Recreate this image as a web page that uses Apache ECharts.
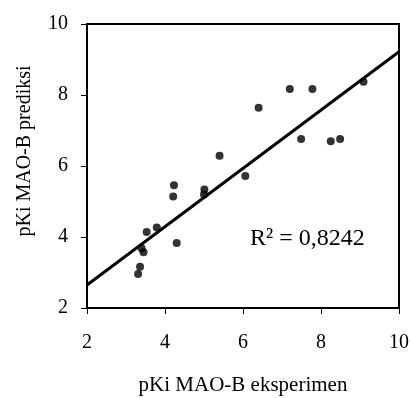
<!DOCTYPE html>
<html>
<head>
<meta charset="utf-8">
<script src="https://cdn.jsdelivr.net/npm/echarts@6/dist/echarts.min.js"></script>
<style>
  html, body { margin: 0; padding: 0; background: #fff; }
  #chart { width: 411px; height: 398px; }
</style>
</head>
<body>
<div id="chart"></div>
<script>
// experimental vs predicted pKi values
const eksperimen = [3.31, 3.36, 3.40, 3.45, 3.53, 3.79, 4.21, 4.23, 4.30, 5.01, 5.00, 5.40, 6.06, 6.40, 7.20, 7.49, 7.78, 8.25, 8.49, 9.09];
const prediksi   = [2.96, 3.16, 3.68, 3.57, 4.14, 4.27, 5.14, 5.46, 3.83, 5.34, 5.20, 6.29, 5.72, 7.64, 8.17, 6.76, 8.17, 6.70, 6.76, 8.37];

// linear trend line end points
const trendX = [2, 10];
const trendY = [2.65, 9.22];

const axisTicks = [2, 4, 6, 8, 10];
const r2Label = "R² = 0,8242";

const FONT = "'Liberation Serif', 'DejaVu Serif', serif";

const chart = echarts.init(document.getElementById("chart"));

const axisCommon = {
  type: "value",
  min: axisTicks[0],
  max: axisTicks[axisTicks.length - 1],
  interval: 2,
  splitLine: { show: false },
  axisLine: { show: true, onZero: false, lineStyle: { color: "#000", width: 2 } },
  axisTick: { show: true, inside: false, length: 6, lineStyle: { color: "#000", width: 1 } },
  nameLocation: "middle",
};

chart.setOption({
  animation: false,
  backgroundColor: "#fff",
  grid: {
    left: 87,
    right: 12,
    top: 24,
    bottom: 90,
    containLabel: false,
    outerBoundsMode: "none",
    show: true,
    borderColor: "#000",
    borderWidth: 2,
  },
  xAxis: {
    ...axisCommon,
    name: "pKi MAO-B eksperimen",
    nameGap: 67,
    nameTextStyle: { fontFamily: FONT, fontSize: 21, color: "#000" },
    axisLabel: { margin: 25, fontFamily: FONT, fontSize: 20, color: "#000" },
  },
  yAxis: {
    ...axisCommon,
    name: "pKi MAO-B prediksi",
    nameGap: 52,
    nameTextStyle: { fontFamily: FONT, fontSize: 20, color: "#000", padding: [0, 0, 0, 30] },
    axisLabel: { margin: 19, fontFamily: FONT, fontSize: 20, color: "#000" },
  },
  graphic: [
    {
      type: "text",
      left: 250,
      top: 227,
      style: { text: r2Label, fontFamily: FONT, fontSize: 24, fill: "#000" },
    },
  ],
  series: [
    {
      type: "line",
      data: trendX.map((x, i) => [x, trendY[i]]),
      symbol: "none",
      lineStyle: { color: "#000", width: 3 },
      z: 2,
    },
    {
      type: "scatter",
      data: eksperimen.map((x, i) => [x, prediksi[i]]),
      symbol: "circle",
      symbolSize: 8,
      itemStyle: { color: "#000" },
      z: 3,
    },
  ],
});
</script>
</body>
</html>
